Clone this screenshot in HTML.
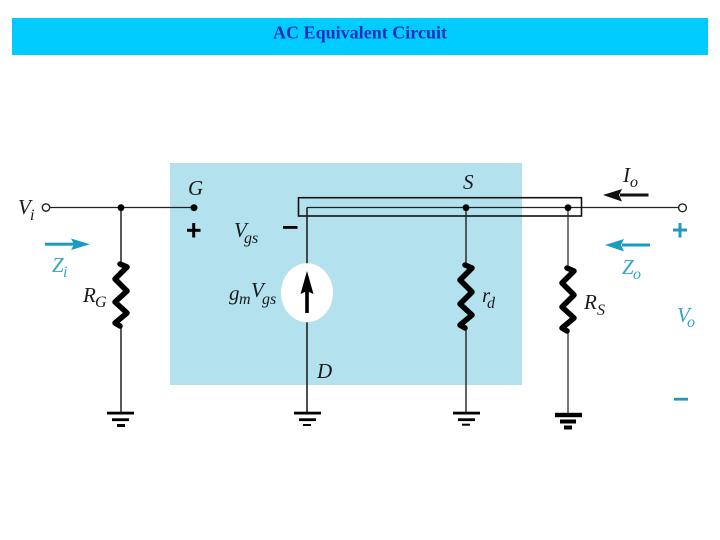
<!DOCTYPE html>
<html><head><meta charset="utf-8"><style>
html,body{margin:0;padding:0;background:#fff}
svg{display:block}
text{font-family:"Liberation Serif",serif;font-style:italic}
.m{font-size:21px;fill:#1a1a1a}
.s{font-size:16px;fill:#1a1a1a}
.b{font-size:21px;fill:#35a5c6}
.bs{font-size:16px;fill:#35a5c6}
</style></head><body>
<svg width="720" height="540" viewBox="0 0 720 540" xmlns="http://www.w3.org/2000/svg">
<rect width="720" height="540" fill="#fff"/>
<rect x="12" y="18" width="696" height="37" fill="#00ccff"/>
<text x="273" y="38.5" textLength="174" lengthAdjust="spacingAndGlyphs" style="font-style:normal;font-weight:bold;font-size:18px;fill:#1a2fc0">AC Equivalent Circuit</text>
<rect x="170" y="163" width="352" height="222" fill="#b3e1ee"/>

<!-- wires -->
<g fill="none" stroke="#222">
<line x1="50" y1="207.5" x2="194" y2="207.5" stroke-width="1.3"/>
<line x1="307" y1="207.5" x2="679" y2="207.5" stroke-width="1.3"/>
<rect x="298.5" y="197.7" width="283" height="18.3" stroke-width="1.6" stroke="#111"/>
<line x1="121" y1="207.5" x2="121" y2="262" stroke-width="1.5"/>
<line x1="121" y1="328" x2="121" y2="413" stroke-width="1.5"/>
<line x1="307" y1="207.5" x2="307" y2="265" stroke-width="1.6"/>
<line x1="307" y1="320" x2="307" y2="413" stroke-width="1.6"/>
<line x1="466" y1="207.5" x2="466" y2="263" stroke-width="1.4"/>
<line x1="466" y1="330" x2="466" y2="413" stroke-width="1.4"/>
<line x1="568" y1="207.5" x2="568" y2="266" stroke-width="1.2"/>
<line x1="568" y1="332" x2="568" y2="415" stroke-width="1.2"/>
</g>

<!-- resistors -->
<g fill="none" stroke="#000" stroke-width="5.5" stroke-linejoin="round" stroke-linecap="round">
<path d="M120 264 L127 267 L115 279 L127 291 L115 302 L127 313 L115 323 L120 326"/>
<path d="M465 265 L472 268 L460 280 L472 292 L460 304 L472 315 L460 325 L465 328"/>
<path d="M567 268 L574 271 L562 283 L574 295 L562 307 L574 318 L562 328 L567 331"/>
</g>

<!-- nodes -->
<circle cx="46" cy="207.5" r="3.7" fill="#fff" stroke="#222" stroke-width="1.4"/>
<circle cx="682.5" cy="207.8" r="3.9" fill="#fff" stroke="#222" stroke-width="1.4"/>
<circle cx="121" cy="207.7" r="3.4" fill="#000"/>
<circle cx="194" cy="207.7" r="3.5" fill="#000"/>
<circle cx="466" cy="207.7" r="3.4" fill="#000"/>
<circle cx="568" cy="207.7" r="3.4" fill="#000"/>

<!-- current source -->
<ellipse cx="307" cy="292.7" rx="26" ry="29.5" fill="#fff"/>
<rect x="305.2" y="288" width="3.6" height="25" fill="#000"/>
<path d="M307 271 L313.5 294 L307 291 L300.5 294 Z" fill="#000"/>

<!-- signs -->
<rect x="187" y="228.8" width="13.5" height="3" fill="#000"/>
<rect x="192.2" y="223" width="3" height="14.5" fill="#000"/>
<rect x="283" y="226" width="14.5" height="2.8" fill="#000"/>
<rect x="673" y="228.5" width="14" height="3" fill="#2299bb"/>
<rect x="678.5" y="223" width="3" height="14.5" fill="#2299bb"/>
<rect x="674" y="397.8" width="14" height="2.8" fill="#2299bb"/>

<!-- arrows -->
<rect x="45" y="242.7" width="30" height="3" fill="#1a9cc0"/>
<path d="M90 244.2 L71 238.5 L74 244.2 L71 250 Z" fill="#1a9cc0"/>
<rect x="620" y="193.5" width="28.5" height="3" fill="#111"/>
<path d="M603 195 L622 189 L619 195 L622 201.5 Z" fill="#111"/>
<rect x="622" y="243.5" width="28" height="3" fill="#1a9cc0"/>
<path d="M605 245 L624 239 L621 245 L624 251.5 Z" fill="#1a9cc0"/>

<!-- grounds -->
<g fill="#000">
<rect x="107" y="411.7" width="27" height="2.8"/><rect x="112" y="418.3" width="17" height="2.8"/><rect x="117" y="424" width="8" height="3"/>
<rect x="294" y="411.7" width="27" height="2.8"/><rect x="299" y="418.3" width="17" height="2.8"/><rect x="303" y="424" width="8" height="2"/>
<rect x="453" y="411.7" width="27" height="2.8"/><rect x="458" y="418.3" width="17" height="2.8"/><rect x="462" y="423.7" width="8" height="2"/>
<rect x="555" y="412.8" width="27" height="4.4"/><rect x="560" y="419.5" width="16" height="4"/><rect x="564" y="425.5" width="8" height="4"/>
</g>

<!-- labels -->
<text class="m" x="18" y="214">V</text><text class="s" x="30" y="220">i</text>
<text class="m" x="188" y="195">G</text>
<text class="m" x="463" y="189">S</text>
<text class="m" x="234" y="237">V</text><text class="s" x="244" y="243">gs</text>
<text class="m" x="229" y="300">g</text><text class="s" x="239" y="304">m</text><text class="m" x="251" y="297">V</text><text class="s" x="262" y="304">gs</text>
<text class="m" x="317" y="378">D</text>
<text class="m" x="83" y="302">R</text><text class="s" x="95" y="307">G</text>
<text class="m" x="482" y="302">r</text><text class="s" x="487" y="308">d</text>
<text class="m" x="584" y="309">R</text><text class="s" x="597" y="315">S</text>
<text class="m" x="623" y="182">I</text><text class="s" x="630" y="187">o</text>
<text class="b" x="52" y="272">Z</text><text class="bs" x="63" y="277">i</text>
<text class="b" x="622" y="274">Z</text><text class="bs" x="633" y="279">o</text>
<text class="b" x="677" y="322">V</text><text class="bs" x="687" y="327">o</text>
</svg>
</body></html>
